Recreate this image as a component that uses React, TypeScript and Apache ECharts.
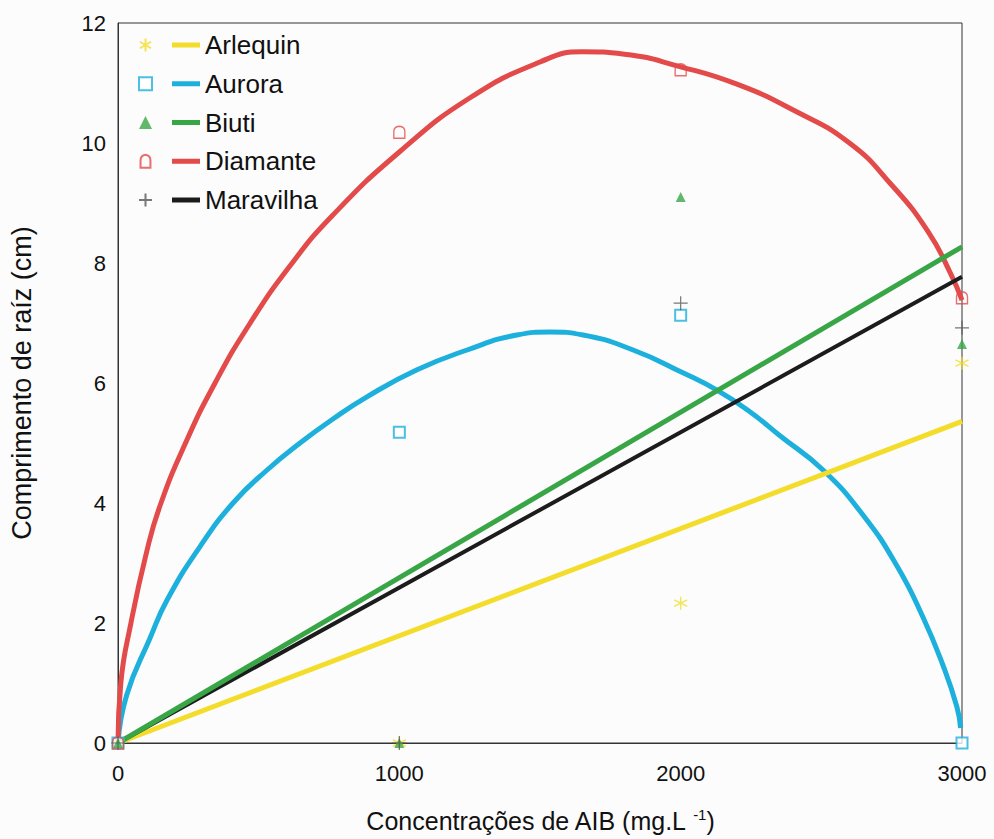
import React, { useEffect, useRef } from "react";
import * as echarts from "echarts";

// Observed concentrations (mg/L of AIB)
const concentrations = [0, 1000, 2000, 3000];

// Observed mean root length (cm) per cultivar
const arlequinObs = [0, 0, 2.33, 6.33];
const auroraObs = [0, 5.18, 7.13, 0];
const biutiObs = [0, 0, 9.1, 6.65];
const diamanteObs = [0, 10.18, 11.22, 7.42];
const maravilhaObs = [0, 0, 7.33, 6.92];

// Fitted curves: [concentration, length]
const arlequinFit = [[0, 0], [3000, 5.36]];
const biutiFit = [[0, 0], [3000, 8.27]];
const maravilhaFit = [[0, 0], [3000, 7.77]];
const auroraFit = [
  [0, 0], [31, 0.8], [114, 1.75], [174, 2.38], [291, 3.27], [409, 4.0],
  [530, 4.55], [647, 5.0], [764, 5.4], [885, 5.77], [1063, 6.22], [1241, 6.55],
  [1418, 6.8], [1536, 6.85], [1653, 6.8], [1831, 6.55], [2008, 6.17], [2129, 5.88],
  [2246, 5.52], [2353, 5.12], [2506, 4.55], [2648, 3.8], [2769, 2.95], [2861, 2.1],
  [2932, 1.3], [2982, 0.6], [2995, 0.25],
];
const diamanteFit = [
  [0, 0], [10, 1.0], [46, 2.0], [100, 3.15], [149, 3.95], [240, 5.0], [345, 6.0],
  [470, 7.0], [611, 7.95], [764, 8.8], [1000, 9.85], [1250, 10.75], [1500, 11.35],
  [1650, 11.52], [1800, 11.48], [2000, 11.27], [2200, 10.98], [2400, 10.55],
  [2600, 10.0], [2750, 9.3], [2880, 8.52], [2960, 7.82], [3000, 7.38],
];

const cultivars = ["Arlequin", "Aurora", "Biuti", "Diamante", "Maravilha"];
const yTicks = [0, 2, 4, 6, 8, 10, 12];
const xTicks = [0, 1000, 2000, 3000];

const FONT = "'Liberation Sans', Arial, sans-serif";

export default function App() {
  const ref = useRef<HTMLDivElement>(null);

  useEffect(() => {
    if (!ref.current) return;
    const chart = echarts.init(ref.current, undefined, { renderer: "svg" });

    const lineColors = ["#f3dd2a", "#1db0dc", "#38a646", "#e34a4a", "#1c1c1c"];
    const obs = [arlequinObs, auroraObs, biutiObs, diamanteObs, maravilhaObs];
    const fits = [arlequinFit, auroraFit, biutiFit, diamanteFit, maravilhaFit];
    const markerSymbols = [
      "path://M5,0L5,10M0.7,2.5L9.3,7.5M0.7,7.5L9.3,2.5",
      "emptyRect",
      "triangle",
      "path://M1,11L1,5Q1,1 5,0.5Q9,1 9,5L9,11Z",
      "path://M5,0L5,10M0,5L10,5",
    ];
    const markerSizes = [[13, 13], [11, 11], [10, 10], [11, 12], [14, 14]];
    const markerStyles = [
      { color: "rgba(0,0,0,0)", borderColor: "#f3dd2a", borderWidth: 1.4 },
      { color: "#1db0dc", borderWidth: 1.4 },
      { color: "#38a646" },
      { color: "rgba(255,255,255,0)", borderColor: "#e34a4a", borderWidth: 1.4 },
      { color: "rgba(0,0,0,0)", borderColor: "#555", borderWidth: 1.2 },
    ];
    const lineWidths = [5, 5, 5, 5, 4];
    const drawOrder = [1, 3, 0, 4, 2];

    const lineSeries = drawOrder.map((i) => ({
      name: cultivars[i],
      type: "line",
      data: fits[i],
      smooth: 0.5,
      smoothMonotone: "none",
      showSymbol: false,
      symbol: "none",
      lineStyle: { color: lineColors[i], width: lineWidths[i] },
      itemStyle: { color: lineColors[i] },
      z: 2,
    }));

    const scatterSeries = cultivars.map((c, i) => ({
      name: c + " obs",
      type: "scatter",
      data: concentrations.map((x, k) => [x, obs[i][k]]),
      symbol: markerSymbols[i],
      symbolSize: markerSizes[i],
      itemStyle: markerStyles[i],
      z: 5,
    }));

    chart.setOption({
      animation: false,
      backgroundColor: "#fcfcfc",
      textStyle: { fontFamily: FONT },
      grid: {
        left: 118,
        right: 32,
        top: 23,
        bottom: 96,
        outerBoundsMode: "none",
        containLabel: false,
        show: true,
        borderColor: "#333",
        borderWidth: 1,
        backgroundColor: "transparent",
      },
      legend: [
        {
          orient: "vertical",
          left: 133,
          top: 27,
          data: cultivars.map((c) => c + " obs"),
          formatter: () => " ",
          itemWidth: 13,
          itemHeight: 13,
          itemGap: 12.75,
          selectedMode: false,
          textStyle: { fontSize: 26, lineHeight: 24, fontFamily: FONT },
        },
        {
          orient: "vertical",
          left: 167,
          top: 27,
          data: cultivars,
          icon: "rect",
          itemWidth: 28,
          itemHeight: 5,
          itemGap: 12.75,
          selectedMode: false,
          textStyle: { fontSize: 26, lineHeight: 24, color: "#111", fontFamily: FONT },
        },
      ],
      xAxis: {
        type: "value",
        min: xTicks[0],
        max: xTicks[xTicks.length - 1],
        interval: 1000,
        name: "Concentrações de AIB (mg.L {sup|-1})",
        nameLocation: "middle",
        nameGap: 64,
        nameTextStyle: {
          fontSize: 25,
          color: "#111",
          fontFamily: FONT,
          rich: { sup: { fontSize: 15, padding: [0, 0, 12, 0], color: "#111", fontFamily: FONT } },
        },
        axisLine: { lineStyle: { color: "#333", width: 1 } },
        axisTick: { show: false },
        splitLine: { show: false },
        axisLabel: {
          fontSize: 22,
          color: "#111",
          margin: 19,
          fontFamily: FONT,
          formatter: (v: number) => String(v),
        },
      },
      yAxis: {
        type: "value",
        min: yTicks[0],
        max: yTicks[yTicks.length - 1],
        interval: 2,
        name: "Comprimento de raíz (cm)",
        nameLocation: "middle",
        nameGap: 83,
        nameTextStyle: { fontSize: 27, color: "#111", fontFamily: FONT },
        axisLine: { lineStyle: { color: "#333", width: 1 } },
        axisTick: { show: false },
        splitLine: { show: false },
        axisLabel: {
          fontSize: 22,
          color: "#111",
          margin: 12,
          fontFamily: FONT,
          formatter: (v: number) => String(v),
        },
      },
      series: [...lineSeries, ...scatterSeries],
    });

    return () => chart.dispose();
  }, []);

  return <div ref={ref} style={{ width: 994, height: 839, position: "absolute", left: 0, top: 0 }} />;
}
